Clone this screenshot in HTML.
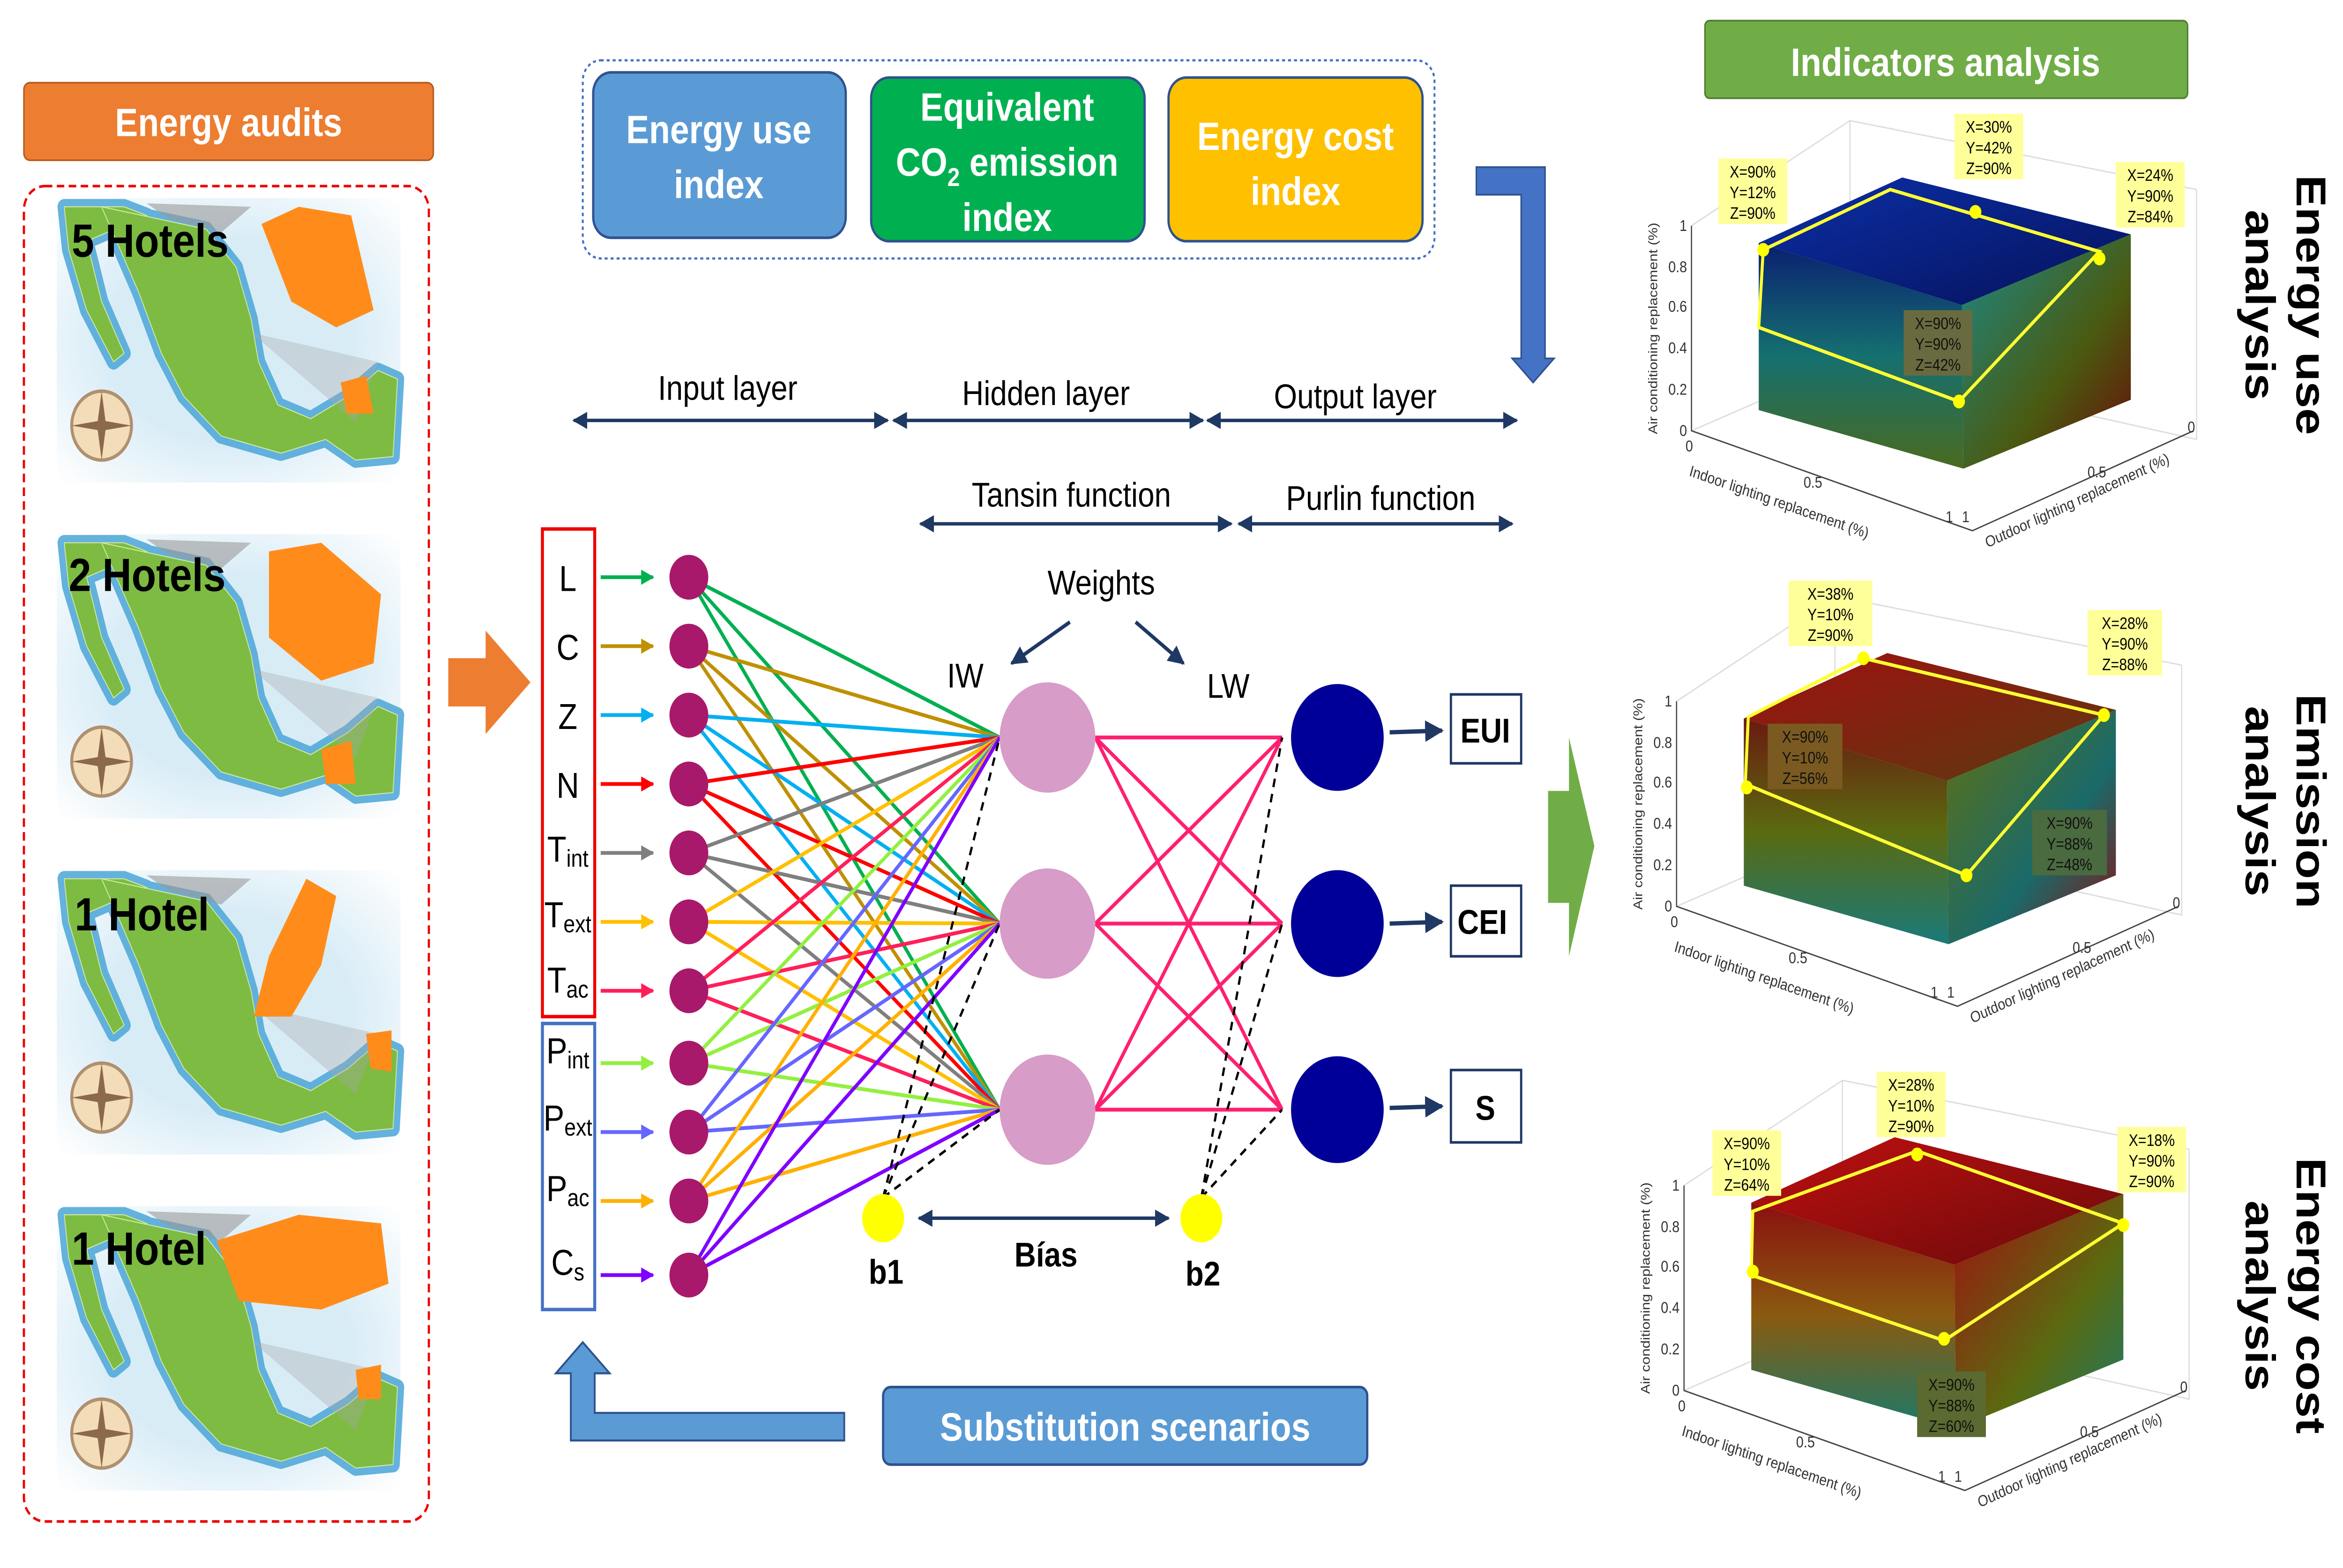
<!DOCTYPE html>
<html><head><meta charset="utf-8"><style>
html,body{margin:0;padding:0;background:#fff;overflow:hidden;width:100vw;height:100vh;}
svg{display:block;position:absolute;left:0;top:0;width:100vw;height:100vh;}
text{font-family:"Liberation Sans",sans-serif;}
</style></head><body>
<svg viewBox="0 0 1568 910" preserveAspectRatio="none" xmlns="http://www.w3.org/2000/svg">
<defs>
<marker id="ah" viewBox="0 0 10 10" refX="9" refY="5" markerWidth="5" markerHeight="5" orient="auto-start-reverse"><path d="M0,0L10,5L0,10z" fill="#1F3864"/></marker>
<marker id="ahs" viewBox="0 0 10 10" refX="9" refY="5" markerWidth="4" markerHeight="4" orient="auto"><path d="M0,0L10,5L0,10z" fill="context-stroke"/></marker>
<radialGradient id="sea" cx="0.5" cy="0.5" r="0.7"><stop offset="0.5" stop-color="#d8ecf6"/><stop offset="1" stop-color="#fff"/></radialGradient>
<linearGradient id="gT1" x1="0" y1="0" x2="1" y2="1"><stop offset="0" stop-color="#0b2fa8"/><stop offset="1" stop-color="#06125a"/></linearGradient>
<linearGradient id="gF1" x1="0" y1="0" x2="0" y2="1"><stop offset="0" stop-color="#0a1f70"/><stop offset="0.5" stop-color="#157070"/><stop offset="1" stop-color="#4a6a20"/></linearGradient>
<linearGradient id="gR1" x1="0" y1="0" x2="1" y2="1"><stop offset="0" stop-color="#1a8a8a"/><stop offset="0.6" stop-color="#4a5a10"/><stop offset="1" stop-color="#6a0a0a"/></linearGradient>
<linearGradient id="gT2" x1="0" y1="0" x2="1" y2="1"><stop offset="0" stop-color="#a01010"/><stop offset="1" stop-color="#5a3a10"/></linearGradient>
<linearGradient id="gF2" x1="0" y1="0" x2="0" y2="1"><stop offset="0" stop-color="#6a1a10"/><stop offset="0.5" stop-color="#5a6a10"/><stop offset="1" stop-color="#1a7a7a"/></linearGradient>
<linearGradient id="gR2" x1="0" y1="0" x2="1" y2="1"><stop offset="0" stop-color="#607010"/><stop offset="0.6" stop-color="#1a6a6a"/><stop offset="1" stop-color="#8a1010"/></linearGradient>
<linearGradient id="gT3" x1="0" y1="0" x2="1" y2="1"><stop offset="0" stop-color="#c01010"/><stop offset="1" stop-color="#6a0a0a"/></linearGradient>
<linearGradient id="gF3" x1="0" y1="0" x2="0" y2="1"><stop offset="0" stop-color="#8a1010"/><stop offset="0.5" stop-color="#8a5a10"/><stop offset="1" stop-color="#1a7a6a"/></linearGradient>
<linearGradient id="gR3" x1="0" y1="0" x2="1" y2="1"><stop offset="0" stop-color="#a01010"/><stop offset="0.6" stop-color="#5a6a10"/><stop offset="1" stop-color="#1a7a6a"/></linearGradient>
<g id="map">
<rect x="0" y="0" width="230" height="165" fill="url(#sea)"/>
<g stroke="#4BA6D8" stroke-width="9" stroke-linejoin="round" fill="#4BA6D8" opacity="0.85">
<path d="M5,5 L45,5 L60,10 L20,25 L30,60 L45,90 L38,95 L20,65 L8,30 Z"/>
<path d="M30,5 L100,18 L120,40 L130,70 L135,95 L148,120 L170,128 L195,115 L215,100 L228,105 L225,150 L200,152 L180,140 L150,148 L110,138 L85,115 L70,90 L55,55 L40,25 Z"/>
</g>
<path d="M5,5 L45,5 L60,10 L20,25 L30,60 L45,90 L38,95 L20,65 L8,30 Z" fill="#7DBB42" stroke="#cfe8a0" stroke-width="0.6"/>
<path d="M30,5 L100,18 L120,40 L130,70 L135,95 L148,120 L170,128 L195,115 L215,100 L228,105 L225,150 L200,152 L180,140 L150,148 L110,138 L85,115 L70,90 L55,55 L40,25 Z" fill="#7DBB42" stroke="#cfe8a0" stroke-width="0.6"/>
<path d="M60,3 L130,5 L110,20 L75,12 Z" fill="#9a9a9a" opacity="0.6"/>
<path d="M130,78 L200,130 L215,95 Z" fill="#aaa" opacity="0.35"/>
<circle cx="30" cy="132" r="20" fill="#f3ddb8" stroke="#b09070" stroke-width="2"/>
<path d="M30,112 L33,132 L30,152 L27,132Z M10,132 L30,129 L50,132 L30,135Z" fill="#8a6a4a"/>
</g>
</defs>

<rect x="16" y="48" width="274" height="45" rx="4" fill="#ED7D31" stroke="#b35c20"/>
<text x="153" y="79" font-size="23" font-weight="bold" fill="#fff" text-anchor="middle">Energy audits</text>
<rect x="16" y="108" width="271" height="775" rx="14" fill="none" stroke="#e00" stroke-width="1.5" stroke-dasharray="5,3"/>
<use href="#map" x="38" y="115"/>
<path d="M175,130 L200,120 L235,125 L250,180 L225,190 L195,175 Z" fill="#FF8C1A"/>
<path d="M228,222 L245,218 L250,240 L232,240 Z" fill="#FF8C1A"/>
<text x="48" y="149" font-size="27" font-weight="bold" fill="#000">5 Hotels</text>
<use href="#map" x="38" y="310"/>
<path d="M180,320 L215,315 L255,345 L250,385 L215,395 L180,370 Z" fill="#FF8C1A"/>
<path d="M215,435 L235,430 L238,455 L218,455 Z" fill="#FF8C1A"/>
<text x="46" y="343" font-size="27" font-weight="bold" fill="#000">2 Hotels</text>
<use href="#map" x="38" y="505"/>
<path d="M205,510 L225,520 L215,560 L195,590 L170,590 L180,555 Z" fill="#FF8C1A"/>
<path d="M245,600 L262,598 L262,622 L248,620 Z" fill="#FF8C1A"/>
<text x="50" y="540" font-size="27" font-weight="bold" fill="#000">1 Hotel</text>
<use href="#map" x="38" y="700"/>
<path d="M145,720 L200,705 L255,710 L260,745 L215,760 L160,755 Z" fill="#FF8C1A"/>
<path d="M238,795 L255,792 L255,812 L240,812 Z" fill="#FF8C1A"/>
<text x="48" y="734" font-size="27" font-weight="bold" fill="#000">1 Hotel</text>

<path d="M300,382 L325,382 L325,366 L355,396 L325,426 L325,410 L300,410 Z" fill="#ED7D31"/>

<rect x="390" y="35" width="570" height="115" rx="12" fill="none" stroke="#4472C4" stroke-width="1.3" stroke-dasharray="2,2"/>
<rect x="397" y="42" width="169" height="96" rx="12" fill="#5B9BD5" stroke="#2F528F" stroke-width="1.5"/>
<text x="481" y="83" font-size="23" font-weight="bold" fill="#fff" text-anchor="middle">Energy use</text>
<text x="481" y="115" font-size="23" font-weight="bold" fill="#fff" text-anchor="middle">index</text>
<rect x="583" y="45" width="183" height="95" rx="12" fill="#00B050" stroke="#2F528F" stroke-width="1.5"/>
<text x="674" y="70" font-size="23" font-weight="bold" fill="#fff" text-anchor="middle">Equivalent</text>
<text x="674" y="102" font-size="23" font-weight="bold" fill="#fff" text-anchor="middle">CO<tspan font-size="15" dy="6">2</tspan><tspan dy="-6"> emission</tspan></text>
<text x="674" y="134" font-size="23" font-weight="bold" fill="#fff" text-anchor="middle">index</text>
<rect x="782" y="45" width="170" height="95" rx="12" fill="#FFC000" stroke="#2F528F" stroke-width="1.5"/>
<text x="867" y="87" font-size="23" font-weight="bold" fill="#fff" text-anchor="middle">Energy cost</text>
<text x="867" y="119" font-size="23" font-weight="bold" fill="#fff" text-anchor="middle">index</text>

<path d="M988,97 L1034,97 L1034,208 L1040,208 L1026,222 L1012,208 L1018,208 L1018,113 L988,113 Z" fill="#4472C4" stroke="#2F528F"/>

<text x="487" y="232" font-size="20" text-anchor="middle">Input layer</text>
<text x="700" y="235" font-size="20" text-anchor="middle">Hidden layer</text>
<text x="907" y="237" font-size="20" text-anchor="middle">Output layer</text>
<g stroke="#1F3864" stroke-width="2" marker-start="url(#ah)" marker-end="url(#ah)">
<line x1="384" y1="244" x2="594" y2="244"/>
<line x1="598" y1="244" x2="805" y2="244"/>
<line x1="808" y1="244" x2="1015" y2="244"/>
<line x1="616" y1="304" x2="824" y2="304"/>
<line x1="829" y1="304" x2="1012" y2="304"/>
</g>
<text x="717" y="294" font-size="20" text-anchor="middle">Tansin function</text>
<text x="924" y="296" font-size="20" text-anchor="middle">Purlin function</text>

<rect x="363" y="307" width="35" height="283" fill="none" stroke="#e00" stroke-width="2"/>
<rect x="363" y="594" width="35" height="166" fill="none" stroke="#4472C4" stroke-width="2"/>
<g font-family="Liberation Serif,serif" font-size="21" fill="#000" text-anchor="middle">
<text x="380" y="343">L</text><text x="380" y="383">C</text><text x="380" y="423">Z</text><text x="380" y="463">N</text>
<text x="380" y="500">T<tspan font-size="14" dy="3">int</tspan></text>
<text x="380" y="538">T<tspan font-size="14" dy="3">ext</tspan></text>
<text x="380" y="576">T<tspan font-size="14" dy="3">ac</tspan></text>
<text x="380" y="617">P<tspan font-size="14" dy="3">int</tspan></text>
<text x="380" y="656">P<tspan font-size="14" dy="3">ext</tspan></text>
<text x="380" y="697">P<tspan font-size="14" dy="3">ac</tspan></text>
<text x="380" y="740">C<tspan font-size="14" dy="3">s</tspan></text>
</g>

<g stroke-width="2.2" fill="none">
<g stroke="#00B050"><line x1="402" y1="335" x2="437" y2="335" marker-end="url(#ahs)"/><path d="M461,335L669,428M461,335L669,536M461,335L669,644"/></g>
<g stroke="#BF9000"><line x1="402" y1="375" x2="437" y2="375" marker-end="url(#ahs)"/><path d="M461,375L669,428M461,375L669,536M461,375L669,644"/></g>
<g stroke="#00B0F0"><line x1="402" y1="415" x2="437" y2="415" marker-end="url(#ahs)"/><path d="M461,415L669,428M461,415L669,536M461,415L669,644"/></g>
<g stroke="#FF0000"><line x1="402" y1="455" x2="437" y2="455" marker-end="url(#ahs)"/><path d="M461,455L669,428M461,455L669,536M461,455L669,644"/></g>
<g stroke="#7F7F7F"><line x1="402" y1="495" x2="437" y2="495" marker-end="url(#ahs)"/><path d="M461,495L669,428M461,495L669,536M461,495L669,644"/></g>
<g stroke="#FFC000"><line x1="402" y1="535" x2="437" y2="535" marker-end="url(#ahs)"/><path d="M461,535L669,428M461,535L669,536M461,535L669,644"/></g>
<g stroke="#FF1F5A"><line x1="402" y1="575" x2="437" y2="575" marker-end="url(#ahs)"/><path d="M461,575L669,428M461,575L669,536M461,575L669,644"/></g>
<g stroke="#92F040"><line x1="402" y1="617" x2="437" y2="617" marker-end="url(#ahs)"/><path d="M461,617L669,428M461,617L669,536M461,617L669,644"/></g>
<g stroke="#6666FF"><line x1="402" y1="657" x2="437" y2="657" marker-end="url(#ahs)"/><path d="M461,657L669,428M461,657L669,536M461,657L669,644"/></g>
<g stroke="#FFB000"><line x1="402" y1="697" x2="437" y2="697" marker-end="url(#ahs)"/><path d="M461,697L669,428M461,697L669,536M461,697L669,644"/></g>
<g stroke="#7F00FF"><line x1="402" y1="740" x2="437" y2="740" marker-end="url(#ahs)"/><path d="M461,740L669,428M461,740L669,536M461,740L669,644"/></g>
</g>
<g fill="#A8196B">
<circle cx="461" cy="335" r="13"/><circle cx="461" cy="375" r="13"/><circle cx="461" cy="415" r="13"/><circle cx="461" cy="455" r="13"/><circle cx="461" cy="495" r="13"/><circle cx="461" cy="535" r="13"/><circle cx="461" cy="575" r="13"/><circle cx="461" cy="617" r="13"/><circle cx="461" cy="657" r="13"/><circle cx="461" cy="697" r="13"/><circle cx="461" cy="740" r="13"/>
</g>

<g stroke="#FF1F70" stroke-width="2.2">
<path d="M733,428L858,428M733,428L858,536M733,428L858,644M733,536L858,428M733,536L858,536M733,536L858,644M733,644L858,428M733,644L858,536M733,644L858,644"/>
</g>
<g stroke="#000" stroke-width="1.5" stroke-dasharray="5,4">
<path d="M591,695L669,428M591,695L669,536M591,695L669,644M804,695L858,428M804,695L858,536M804,695L858,644"/>
</g>
<g fill="#D79CC8"><circle cx="701" cy="428" r="32"/><circle cx="701" cy="536" r="32"/><circle cx="701" cy="644" r="32"/></g>
<g fill="#000099"><circle cx="895" cy="428" r="31"/><circle cx="895" cy="536" r="31"/><circle cx="895" cy="644" r="31"/></g>
<circle cx="591" cy="707" r="14" fill="#FFFF00"/>
<circle cx="804" cy="707" r="14" fill="#FFFF00"/>
<text x="593" y="745" font-size="20" font-weight="bold" text-anchor="middle">b1</text>
<text x="805" y="746" font-size="20" font-weight="bold" text-anchor="middle">b2</text>
<line x1="615" y1="707" x2="782" y2="707" stroke="#1F3864" stroke-width="2" marker-start="url(#ah)" marker-end="url(#ah)"/>
<text x="700" y="735" font-size="20" font-weight="bold" text-anchor="middle">Bías</text>
<text x="737" y="345" font-size="20" text-anchor="middle">Weights</text>
<line x1="716" y1="361" x2="677" y2="385" stroke="#1F3864" stroke-width="2.2" marker-end="url(#ah)"/>
<line x1="760" y1="361" x2="792" y2="385" stroke="#1F3864" stroke-width="2.2" marker-end="url(#ah)"/>
<text x="646" y="399" font-size="20" text-anchor="middle">IW</text>
<text x="822" y="405" font-size="20" text-anchor="middle">LW</text>

<g stroke="#1F3864" stroke-width="2.5"><line x1="930" y1="425" x2="965" y2="424" marker-end="url(#ah)"/><line x1="930" y1="536" x2="965" y2="535" marker-end="url(#ah)"/><line x1="930" y1="643" x2="965" y2="642" marker-end="url(#ah)"/></g>
<g fill="#fff" stroke="#1F3864" stroke-width="1.5"><rect x="971" y="403" width="47" height="40"/><rect x="971" y="514" width="47" height="41"/><rect x="971" y="621" width="47" height="42"/></g>
<g font-size="20" font-weight="bold" text-anchor="middle"><text x="994" y="431">EUI</text><text x="992" y="542">CEI</text><text x="994" y="650">S</text></g>

<path d="M1036,459 L1050,459 L1050,428 L1067,491 L1050,555 L1050,524 L1036,524 Z" fill="#70AD47"/>

<rect x="591" y="805" width="324" height="45" rx="5" fill="#5B9BD5" stroke="#2F528F" stroke-width="1.5"/>
<text x="753" y="836" font-size="23" font-weight="bold" fill="#fff" text-anchor="middle">Substitution scenarios</text>
<path d="M565,820 L398,820 L398,797 L408,797 L390,779 L372,797 L382,797 L382,836 L565,836 Z" fill="#5B9BD5" stroke="#2F528F" stroke-width="1.2"/>

<rect x="1141" y="12" width="323" height="45" rx="3" fill="#70AD47" stroke="#507e32"/>
<text x="1302" y="44" font-size="23" font-weight="bold" fill="#fff" text-anchor="middle">Indicators analysis</text>

<g>
<g stroke="#ddd" stroke-width="0.8" fill="none"><path d="M1132,250 L1238,210 L1238,70 M1238,210 L1470,255 L1470,110 M1132,131 L1238,70 L1470,110"/></g>
<polygon points="1177,141 1273,103 1426,136 1313,177" fill="url(#gT1)"/>
<polygon points="1177,141 1313,177 1314,272 1177,238" fill="url(#gF1)"/>
<polygon points="1313,177 1426,136 1426,232 1314,272" fill="url(#gR1)"/>
<path d="M1177,190 L1180,145 L1265,110 L1405,146 L1311,233 Z" fill="none" stroke="#FFFF33" stroke-width="2"/>
<g fill="#FFFF00"><circle cx="1180" cy="145" r="4"/><circle cx="1322" cy="123" r="4"/><circle cx="1405" cy="150" r="4"/><circle cx="1311" cy="233" r="4"/></g>
<g stroke="#444" stroke-width="0.8" fill="none"><path d="M1132,131 L1132,250 L1320,308 L1468,250"/></g>
<g font-size="9" fill="#333" text-anchor="end"><text x="1129" y="134">1</text><text x="1129" y="158">0.8</text><text x="1129" y="181">0.6</text><text x="1129" y="205">0.4</text><text x="1129" y="229">0.2</text><text x="1129" y="253">0</text></g>
<g font-size="9" fill="#333"><text x="1128" y="262">0</text><text x="1207" y="283">0.5</text><text x="1302" y="303">1</text><text x="1313" y="303">1</text><text x="1397" y="277">0.5</text><text x="1464" y="251">0</text></g>
<text transform="translate(1109,252) rotate(-90)" font-size="8.5" fill="#333">Air conditioning replacement (%)</text>
<text transform="translate(1130,276) rotate(17)" font-size="9" fill="#333">Indoor lighting replacement (%)</text>
<text transform="translate(1330,318) rotate(-22)" font-size="9" fill="#333">Outdoor lighting replacement (%)</text>
</g>
<g transform="translate(-10,276)">
<g stroke="#ddd" stroke-width="0.8" fill="none"><path d="M1132,250 L1238,210 L1238,70 M1238,210 L1470,255 L1470,110 M1132,131 L1238,70 L1470,110"/></g>
<polygon points="1177,141 1273,103 1426,136 1313,177" fill="url(#gT2)"/>
<polygon points="1177,141 1313,177 1314,272 1177,238" fill="url(#gF2)"/>
<polygon points="1313,177 1426,136 1426,232 1314,272" fill="url(#gR2)"/>
<g stroke="#444" stroke-width="0.8" fill="none"><path d="M1132,131 L1132,250 L1320,308 L1468,250"/></g>
<g font-size="9" fill="#333" text-anchor="end"><text x="1129" y="134">1</text><text x="1129" y="158">0.8</text><text x="1129" y="181">0.6</text><text x="1129" y="205">0.4</text><text x="1129" y="229">0.2</text><text x="1129" y="253">0</text></g>
<g font-size="9" fill="#333"><text x="1128" y="262">0</text><text x="1207" y="283">0.5</text><text x="1302" y="303">1</text><text x="1313" y="303">1</text><text x="1397" y="277">0.5</text><text x="1464" y="251">0</text></g>
<text transform="translate(1109,252) rotate(-90)" font-size="8.5" fill="#333">Air conditioning replacement (%)</text>
<text transform="translate(1130,276) rotate(17)" font-size="9" fill="#333">Indoor lighting replacement (%)</text>
<text transform="translate(1330,318) rotate(-22)" font-size="9" fill="#333">Outdoor lighting replacement (%)</text>
</g>
<path d="M1168,455 L1170,416 L1247,382 L1408,415 L1316,508 Z" fill="none" stroke="#FFFF33" stroke-width="2"/>
<g fill="#FFFF00"><circle cx="1169" cy="457" r="4"/><circle cx="1247" cy="382" r="4"/><circle cx="1408" cy="415" r="4"/><circle cx="1316" cy="508" r="4"/></g>
<g transform="translate(-5,557)">
<g stroke="#ddd" stroke-width="0.8" fill="none"><path d="M1132,250 L1238,210 L1238,70 M1238,210 L1470,255 L1470,110 M1132,131 L1238,70 L1470,110"/></g>
<polygon points="1177,141 1273,103 1426,136 1313,177" fill="url(#gT3)"/>
<polygon points="1177,141 1313,177 1314,272 1177,238" fill="url(#gF3)"/>
<polygon points="1313,177 1426,136 1426,232 1314,272" fill="url(#gR3)"/>
<g stroke="#444" stroke-width="0.8" fill="none"><path d="M1132,131 L1132,250 L1320,308 L1468,250"/></g>
<g font-size="9" fill="#333" text-anchor="end"><text x="1129" y="134">1</text><text x="1129" y="158">0.8</text><text x="1129" y="181">0.6</text><text x="1129" y="205">0.4</text><text x="1129" y="229">0.2</text><text x="1129" y="253">0</text></g>
<g font-size="9" fill="#333"><text x="1128" y="262">0</text><text x="1207" y="283">0.5</text><text x="1302" y="303">1</text><text x="1313" y="303">1</text><text x="1397" y="277">0.5</text><text x="1464" y="251">0</text></g>
<text transform="translate(1109,252) rotate(-90)" font-size="8.5" fill="#333">Air conditioning replacement (%)</text>
<text transform="translate(1130,276) rotate(17)" font-size="9" fill="#333">Indoor lighting replacement (%)</text>
<text transform="translate(1330,318) rotate(-22)" font-size="9" fill="#333">Outdoor lighting replacement (%)</text>
</g>
<path d="M1172,740 L1173,703 L1283,668 L1421,710 L1301,778 Z" fill="none" stroke="#FFFF33" stroke-width="2"/>
<g fill="#FFFF00"><circle cx="1173" cy="738" r="4"/><circle cx="1283" cy="670" r="4"/><circle cx="1421" cy="711" r="4"/><circle cx="1301" cy="777" r="4"/></g>

<g font-size="9.5" text-anchor="middle">
<rect x="1150" y="92" width="46" height="38" fill="#FFFF99"/><text x="1173" y="103">X=90%</text><text x="1173" y="115">Y=12%</text><text x="1173" y="127">Z=90%</text>
<rect x="1308" y="66" width="46" height="38" fill="#FFFF99"/><text x="1331" y="77">X=30%</text><text x="1331" y="89">Y=42%</text><text x="1331" y="101">Z=90%</text>
<rect x="1416" y="94" width="46" height="38" fill="#FFFF99"/><text x="1439" y="105">X=24%</text><text x="1439" y="117">Y=90%</text><text x="1439" y="129">Z=84%</text>
<rect x="1274" y="180" width="46" height="38" fill="#6a6a40"/><text x="1297" y="191" fill="#111">X=90%</text><text x="1297" y="203" fill="#111">Y=90%</text><text x="1297" y="215" fill="#111">Z=42%</text>
<rect x="1197" y="337" width="56" height="38" fill="#FFFF99"/><text x="1225" y="348">X=38%</text><text x="1225" y="360">Y=10%</text><text x="1225" y="372">Z=90%</text>
<rect x="1397" y="354" width="50" height="38" fill="#FFFF99"/><text x="1422" y="365">X=28%</text><text x="1422" y="377">Y=90%</text><text x="1422" y="389">Z=88%</text>
<rect x="1183" y="420" width="50" height="38" fill="#7a5a20"/><text x="1208" y="431" fill="#111">X=90%</text><text x="1208" y="443" fill="#111">Y=10%</text><text x="1208" y="455" fill="#111">Z=56%</text>
<rect x="1360" y="470" width="50" height="38" fill="#4a6a40"/><text x="1385" y="481" fill="#111">X=90%</text><text x="1385" y="493" fill="#111">Y=88%</text><text x="1385" y="505" fill="#111">Z=48%</text>
<rect x="1146" y="656" width="46" height="38" fill="#FFFF99"/><text x="1169" y="667">X=90%</text><text x="1169" y="679">Y=10%</text><text x="1169" y="691">Z=64%</text>
<rect x="1256" y="622" width="46" height="38" fill="#FFFF99"/><text x="1279" y="633">X=28%</text><text x="1279" y="645">Y=10%</text><text x="1279" y="657">Z=90%</text>
<rect x="1417" y="654" width="46" height="38" fill="#FFFF99"/><text x="1440" y="665">X=18%</text><text x="1440" y="677">Y=90%</text><text x="1440" y="689">Z=90%</text>
<rect x="1283" y="796" width="46" height="38" fill="#5a6a30"/><text x="1306" y="807" fill="#111">X=90%</text><text x="1306" y="819" fill="#111">Y=88%</text><text x="1306" y="831" fill="#111">Z=60%</text>
</g>

<g font-size="28" font-weight="bold" text-anchor="middle" font-family="DejaVu Sans,sans-serif">
<text transform="translate(1537,177) rotate(90)">Energy use</text>
<text transform="translate(1503,177) rotate(90)">analysis</text>
<text transform="translate(1537,465) rotate(90)">Emission</text>
<text transform="translate(1503,465) rotate(90)">analysis</text>
<text transform="translate(1537,752) rotate(90)">Energy cost</text>
<text transform="translate(1503,752) rotate(90)">analysis</text>
</g>
</svg>
</body></html>
